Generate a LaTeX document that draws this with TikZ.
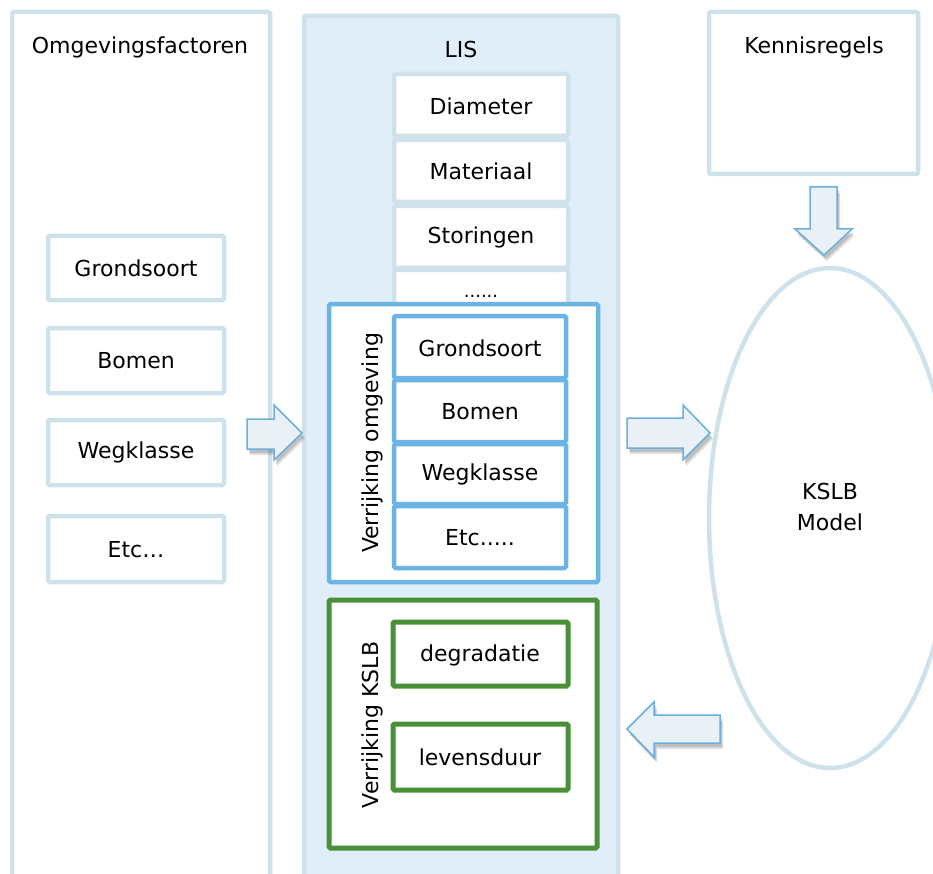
\documentclass[tikz,border=0pt]{standalone}
\usepackage{fontspec}
\setmainfont{DejaVu Sans}
\usetikzlibrary{shadows}
\definecolor{lightstroke}{HTML}{CFE1EB}
\definecolor{lisfill}{HTML}{E0EEF9}
\definecolor{bluestroke}{HTML}{6CB4E4}
\definecolor{greenstroke}{HTML}{4A9038}
\definecolor{arrowfill}{HTML}{E9F1F6}
\definecolor{arrowstroke}{HTML}{6AAFE0}
\tikzset{
  txt/.style={font=\fontsize{22}{26}\selectfont, text=black, inner sep=0pt},
  colbox/.style={draw=lightstroke, line width=4.5pt, rounded corners=2pt},
  lightbox/.style={draw=lightstroke, line width=4.5pt, fill=white, rounded corners=1.5pt},
  bluebox/.style={draw=bluestroke, line width=4.5pt, fill=white, rounded corners=1.5pt},
  greenbox/.style={draw=greenstroke, line width=5pt, fill=white, rounded corners=1.5pt},
  bigarrow/.style={draw=arrowstroke, line width=1.5pt, fill=arrowfill, line join=miter,
    drop shadow={shadow xshift=3pt, shadow yshift=-6pt, opacity=0.12, fill=black},
    drop shadow={shadow xshift=2pt, shadow yshift=-4pt, opacity=0.15, fill=black}}
}
\begin{document}
\begin{tikzpicture}[x=1pt, y=-1pt]
\useasboundingbox (0,0) rectangle (933,874);
\clip (0,0) rectangle (933,874);
% columns
\draw[colbox, fill=white] (12,12) rectangle (270,900);
\draw[colbox, fill=lisfill] (304,16) rectangle (618,900);
\draw[colbox, fill=white] (709,12) rectangle (918,174);
\node[txt] (omg) at (140,47) {Omgevingsfactoren};
\node[txt] (lis) at (461,49) {LIS};
\node[txt] (ken) at (814,47) {Kennisregels};
% left boxes
\draw[lightbox] (48,236) rectangle (224,300);
\node[txt] (lg) at (136,268) {Grondsoort};
\draw[lightbox] (48,328) rectangle (224,393);
\node[txt] (lb) at (136,361) {Bomen};
\draw[lightbox] (48,420) rectangle (224,485);
\node[txt] (lw) at (136,452) {Wegklasse};
\draw[lightbox] (48,516) rectangle (224,582);
\node[txt] (le) at (136,550) {Etc\dots};
% LIS stack
\draw[lightbox] (394,74) rectangle (568,136);
\node[txt] (dia) at (481,106) {Diameter};
\draw[lightbox] (394,140) rectangle (568,202);
\node[txt] (mat) at (481,171) {Materiaal};
\draw[lightbox] (394,206) rectangle (568,268);
\node[txt] (sto) at (481,237) {Storingen};
\draw[lightbox] (394,270) rectangle (568,318);
\node[txt, font=\fontsize{18}{22}\selectfont] (dots) at (481,296) {......};
% blue group
\draw[bluebox] (329,304) rectangle (598,582);
\node[txt, rotate=90] (vo) at (372,443) {Verrijking omgeving};
\draw[bluebox] (394,316) rectangle (566,378);
\node[txt] (bg) at (480,348) {Grondsoort};
\draw[bluebox] (394,380) rectangle (566,442);
\node[txt] (bb) at (480,412) {Bomen};
\draw[bluebox] (394,444) rectangle (566,504);
\node[txt] (bw) at (480,474) {Wegklasse};
\draw[bluebox] (394,506) rectangle (566,568);
\node[txt] (be) at (480,538) {Etc.....};
% green group
\draw[greenbox] (329,600) rectangle (597,848);
\node[txt, rotate=90] (vk) at (372,725) {Verrijking KSLB};
\draw[greenbox] (393,622) rectangle (568,686);
\node[txt] (deg) at (480,655) {degradatie};
\draw[greenbox] (393,724) rectangle (568,790);
\node[txt] (lev) at (480,757) {levensduur};
% ellipse
\draw[draw=lightstroke, line width=4.5pt, fill=white] (830,518) ellipse [x radius=121, y radius=250];
\node[txt, align=center] (kslb) at (830,507) {KSLB\\[5pt]Model};
% arrows
\draw[bigarrow] (247,419) -- (274,419) -- (274,405) -- (302,433) -- (274,460) -- (274,449) -- (247,449) -- cycle;
\draw[bigarrow] (627,418) -- (683,418) -- (683,405) -- (710,433) -- (683,460) -- (683,448) -- (627,448) -- cycle;
\draw[bigarrow] (720,715) -- (654,715) -- (654,702) -- (627,729) -- (654,757) -- (654,743) -- (720,743) -- cycle;
\draw[bigarrow] (810,187) -- (837,187) -- (837,229) -- (852,229) -- (824,255) -- (795,229) -- (810,229) -- cycle;
\end{tikzpicture}
\end{document}
